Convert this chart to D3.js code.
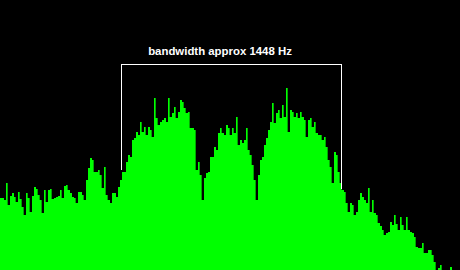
<!DOCTYPE html>
<html><head><meta charset="utf-8">
<script src="https://cdn.jsdelivr.net/npm/d3@7"></script>
<style>html,body{margin:0;padding:0;background:#000;overflow:hidden}</style>
</head><body><svg id="c" width="460" height="270"></svg>
<script>
// spectrum levels (dB), one per frequency bin
const binHz = 1448 / 110;
const levelsDb = [
-66,-66,-66.7,-61,-68.3,-65.3,-64.3,-65.7,-67.3,-64,
-66.3,-69,-71.7,-64.3,-66,-70.7,-65.3,-62.3,-63,-65,
-66.7,-71,-63.3,-67.3,-63.3,-63,-66.3,-66,-65.7,-65.3,
-63.3,-66,-62,-61.7,-63.3,-64.3,-65.7,-66,-67.7,-64,
-64,-65,-66.7,-60,-56,-52.7,-53.3,-57.3,-57.3,-56.7,
-58.3,-62.7,-55.7,-65,-66.7,-67.7,-64.3,-64.3,-65.7,-62.3,
-60,-57.3,-57.3,-54,-51.7,-52.3,-46.7,-46,-44,-45,
-40.7,-44,-42.3,-45,-42.3,-43.3,-45.7,-32.7,-39.3,-41.7,
-40.7,-40,-39.3,-40.7,-32.7,-39,-37.7,-35.7,-39.3,-37.3,
-33.3,-34,-36,-37.7,-37.3,-42.7,-42.7,-43.3,-56.7,-54,
-58.3,-66.7,-59.3,-57.7,-57.3,-52.3,-52.3,-49,-50,-44.3,
-42.7,-44.3,-45,-41.7,-42.7,-45,-42.7,-44.3,-39,-48.3,
-46.7,-47.7,-46.7,-42.7,-50,-51.7,-55,-60,-66.7,-58.3,
-53.3,-52.3,-48.3,-46,-43.3,-40.7,-34.3,-41,-37.7,-36.7,
-39.3,-35,-39,-29.3,-44,-36.7,-37.3,-39,-37.7,-39.3,
-37.3,-39,-40,-45.7,-40,-39.3,-42.3,-40.7,-44.3,-45,
-45,-46.7,-45.7,-49,-53.3,-55.7,-61,-50.7,-51.7,-57.3,
-61,-63.3,-64,-67.7,-70.7,-67.7,-68.3,-71.7,-70.7,-66.7,
-64.3,-65.7,-66.7,-67.7,-62.7,-70.7,-66.7,-71,-71.7,-74.3,
-75.3,-76.7,-78.3,-77.7,-77.3,-74,-75,-71.7,-74.7,-76.7,
-72.3,-75,-76.7,-72.3,-76.7,-77.3,-77.7,-79,-82.3,-82.7,
-82.7,-81,-84.3,-84.3,-83.3,-83.3,-85,-87.3,-90,-89.3,
-88.3,-90,-90,-90,-90,-89,-90,-90,-90,-90
];
// annotation
const bandStartHz = 796.4;
const bandwidthHz = 1448;
const bracketTopDb = -21.3;
const bracketLeftEndDb = -56.7;
const bracketRightEndDb = -63;
const labelCenterHz = 1448;
const labelDb = -18.3;
const labelText = "bandwidth approx 1448 Hz";
const dbDomain = [-90, 0];

const W = 460, H = 270;
const svg = d3.select("#c");
svg.append("rect").attr("width", W).attr("height", H).attr("fill", "#000");

const x = d3.scaleLinear().domain([0, levelsDb.length * binHz]).range([0, W]);
const y = d3.scaleLinear().domain(dbDomain).range([H, 0]);

const data = levelsDb.map((v, i) => ({f0: i * binHz, f1: (i + 1) * binHz, v, next: levelsDb[i + 1]}));

svg.append("g").selectAll("rect").data(data).join("rect")
  .attr("x", d => x(d.f0))
  .attr("width", d => x(d.f1) - x(d.f0))
  .attr("y", d => y(d.v))
  .attr("height", d => H - y(d.v))
  .attr("fill", "#00ff00")
  .attr("shape-rendering", "crispEdges");

// darker shaded edge where a bin stands above the next
svg.append("g").selectAll("rect").data(data.filter(d => d.next !== undefined && d.v > d.next + 1.5)).join("rect")
  .attr("x", d => x(d.f1) - 1)
  .attr("width", 1)
  .attr("y", d => y(d.v))
  .attr("height", d => y(d.next) - y(d.v))
  .attr("fill", "#00a800")
  .attr("shape-rendering", "crispEdges");

// bracket
const xl = Math.round(x(bandStartHz)) + 0.5;
const xr = Math.round(x(bandStartHz + bandwidthHz)) + 0.5;
const yt = Math.round(y(bracketTopDb)) + 0.5;
svg.append("path")
  .attr("d", `M${xl},${y(bracketLeftEndDb)}V${yt}H${xr}V${y(bracketRightEndDb)}`)
  .attr("fill", "none").attr("stroke", "#fff").attr("stroke-width", 1)
  .attr("shape-rendering", "crispEdges");

svg.append("text")
  .attr("x", x(labelCenterHz))
  .attr("y", y(labelDb))
  .attr("text-anchor", "middle")
  .attr("fill", "#fff")
  .attr("font-family", "Liberation Sans, Arial, sans-serif")
  .attr("font-weight", "bold")
  .attr("font-size", 11.4)
  .text(labelText);
</script></body></html>
